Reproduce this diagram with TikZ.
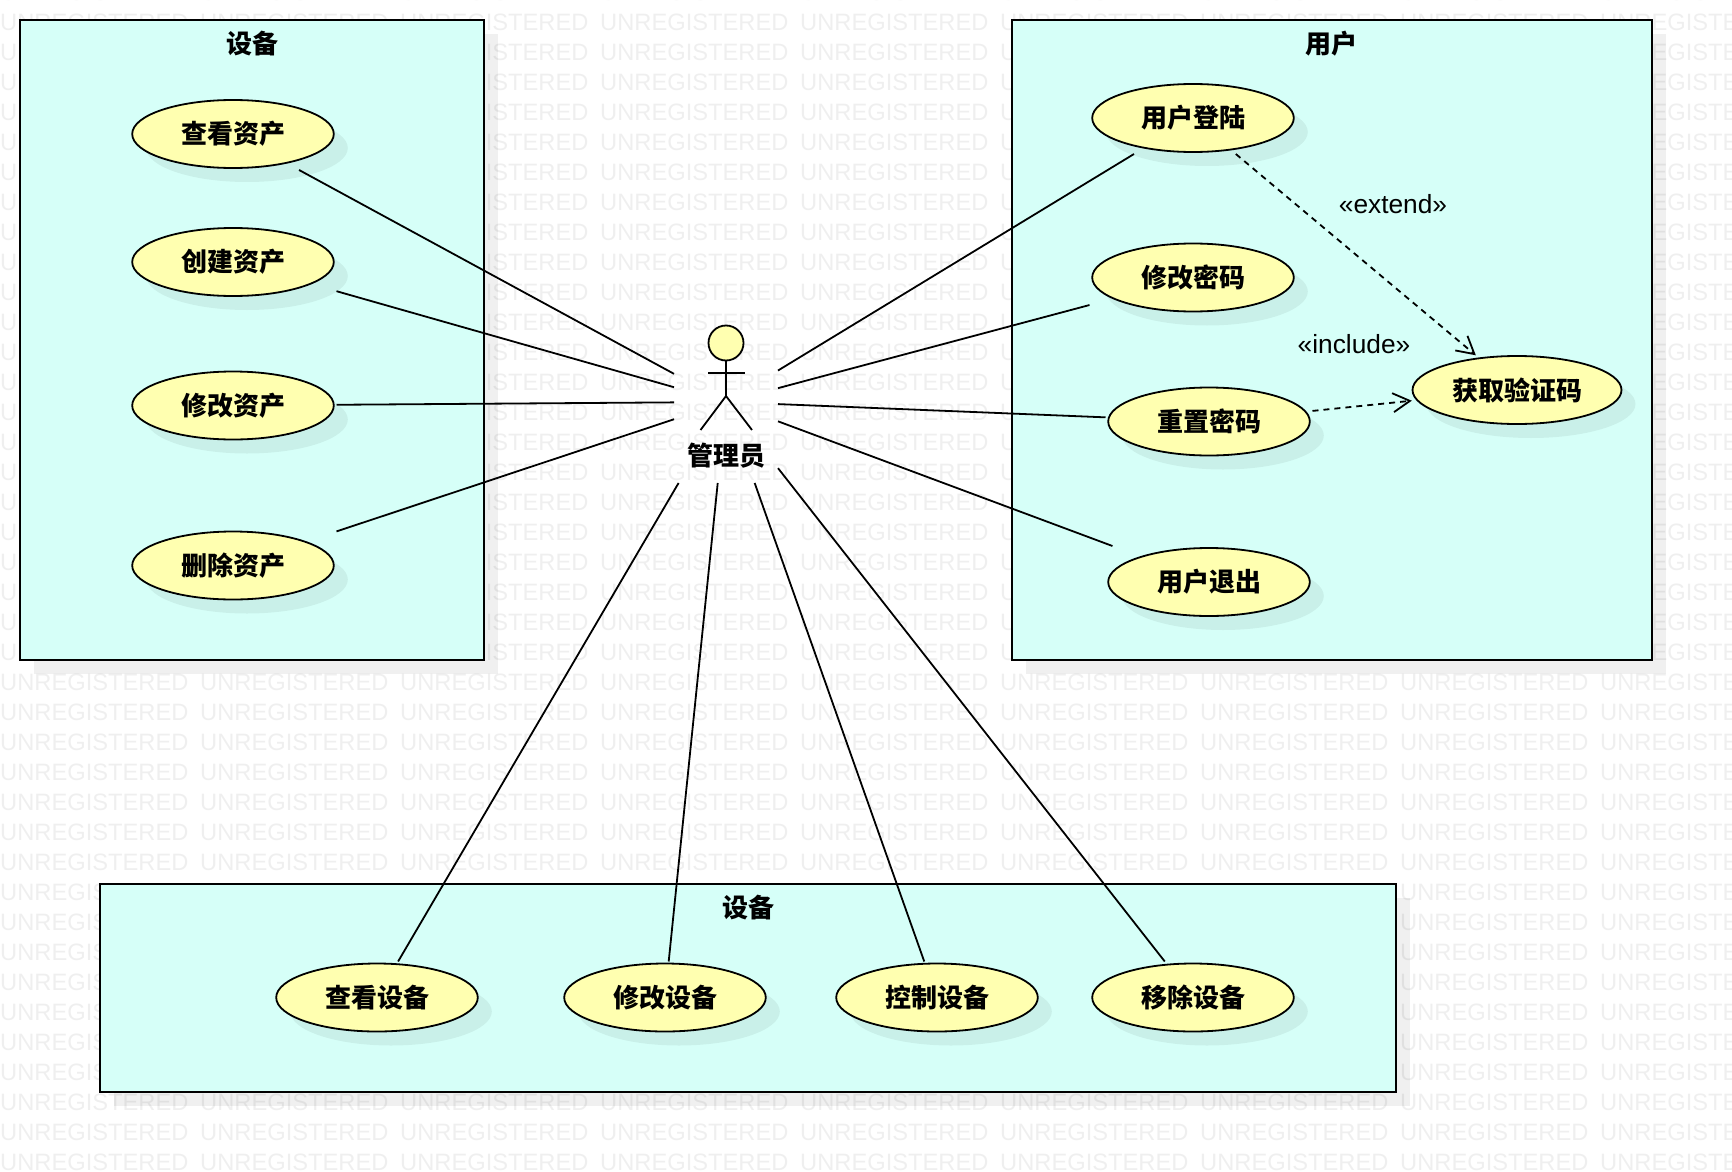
\documentclass[tikz,border=0pt]{standalone}
\usepackage{fontspec}
\setmainfont{Liberation Sans}
\newfontfamily\cjk{Noto Sans CJK SC}
\usepackage{xcolor}
\usetikzlibrary{arrows.meta,calc}
\definecolor{boxfill}{HTML}{D6FFF8}
\definecolor{casefill}{HTML}{FFFFB0}
\definecolor{markgray}{HTML}{EFEFEF}
\tikzstyle{watermark} = [text=markgray, inner sep=0pt, anchor=west, font=\fontsize{23.7}{28}\selectfont]
\tikzstyle{softshadow} = [fill=black, fill opacity=0.06]
\tikzstyle{package} = [draw, line width=2pt, fill=boxfill]
\tikzstyle{title} = [inner sep=0pt, font=\cjk\bfseries\fontsize{26}{30}\selectfont]
\tikzstyle{stereo} = [inner sep=0pt, font=\fontsize{26.3}{30}\selectfont]
\tikzstyle{casenode}[100.8] = [rectangle, inner sep=0pt, outer sep=0pt,
    minimum width=2*#1pt+5.4pt, minimum height=72pt,
    font=\cjk\bfseries\fontsize{26}{30}\selectfont,
    path picture={\draw[line width=1.8pt, fill=casefill] (path picture bounding box.center) ellipse (#1pt and 34pt);}]
\tikzstyle{actorbox} = [rectangle, inner sep=0pt, outer sep=0pt, minimum width=104pt, minimum height=162pt]
\tikzstyle{connector} = [line width=1.8pt]
\tikzstyle{depend} = [line width=1.8pt, dash pattern=on 6pt off 5pt, shorten >=-2pt, -{Straight Barb[length=17pt,width=19pt,line width=1.8pt]}]
\newcommand{\usecase}[4][100.8]{
    \fill[softshadow] (#3) ++(14,14) ellipse (#1pt and 34pt);
    \node[casenode=#1] (#2) at (#3) {#4};
}
\begin{document}
\begin{tikzpicture}[x=1pt,y=-1pt]
    \useasboundingbox (0,0) rectangle (1732,1172);
    % background marks
    \foreach \row in {0,...,39}
        \foreach \col in {0,...,8}
            \node[watermark] (mark\row-\col) at (200*\col,30*\row-8) {UNREGISTERED};

    % packages
    \fill[softshadow] (34,34) rectangle (498,674);
    \fill[softshadow] (1026,34) rectangle (1666,674);
    \fill[softshadow] (114,898) rectangle (1410,1106);
    \draw[package] (20,20) rectangle (484,660);
    \draw[package] (1012,20) rectangle (1652,660);
    \draw[package] (100,884) rectangle (1396,1092);
    \node[title] (asset title) at (252,44) {设备};
    \node[title] (user title) at (1331,44) {用户};
    \node[title] (device title) at (748,908) {设备};

    \usecase{view asset}{233,134}{查看资产}
    \usecase{create asset}{233,262}{创建资产}
    \usecase{edit asset}{233,405.5}{修改资产}
    \usecase{delete asset}{233,565.5}{删除资产}
    \usecase{login}{1193,118}{用户登陆}
    \usecase{change pwd}{1193,277.5}{修改密码}
    \usecase{reset pwd}{1209,421.5}{重置密码}
    \usecase{logout}{1209,582}{用户退出}
    \usecase[104.5]{get code}{1517,390}{获取验证码}
    \usecase{view device}{377,997.5}{查看设备}
    \usecase{edit device}{665,997.5}{修改设备}
    \usecase{control device}{937,997.5}{控制设备}
    \usecase{remove device}{1193,997.5}{移除设备}

    % actor
    \node[actorbox] (admin) at (726,402) {};
    \node[draw, circle, line width=1.8pt, fill=casefill, minimum size=35pt, inner sep=0pt] (head) at (726,343) {};
    \coordinate (hip) at (726,396);
    \coordinate (arm left) at (708,373);
    \coordinate (arm right) at (745,373);
    \coordinate (foot left) at (700.5,430);
    \coordinate (foot right) at (752,430);
    \draw[connector] (head) -- (hip);
    \draw[connector] (arm left) -- (arm right);
    \draw[connector] (foot left) -- (hip) -- (foot right);
    \node[title] (admin label) at (726,456) {管理员};

    \draw[connector] (admin) -- (view asset);
    \draw[connector] (admin) -- (create asset);
    \draw[connector] (admin) -- (edit asset);
    \draw[connector] (admin) -- (delete asset);
    \draw[connector] (admin) -- (login);
    \draw[connector] (admin) -- (change pwd);
    \draw[connector] (admin) -- (reset pwd);
    \draw[connector] (admin) -- (logout);
    \draw[connector] (admin) -- (view device);
    \draw[connector] (admin) -- (edit device);
    \draw[connector] (admin) -- (control device);
    \draw[connector] (admin) -- (remove device);

    \draw[depend] (login) -- (get code);
    \draw[depend] (reset pwd) -- (get code);
    \node[stereo] (extend) at (1393,204) {«extend»};
    \node[stereo] (include) at (1354,344) {«include»};
\end{tikzpicture}
\end{document}
